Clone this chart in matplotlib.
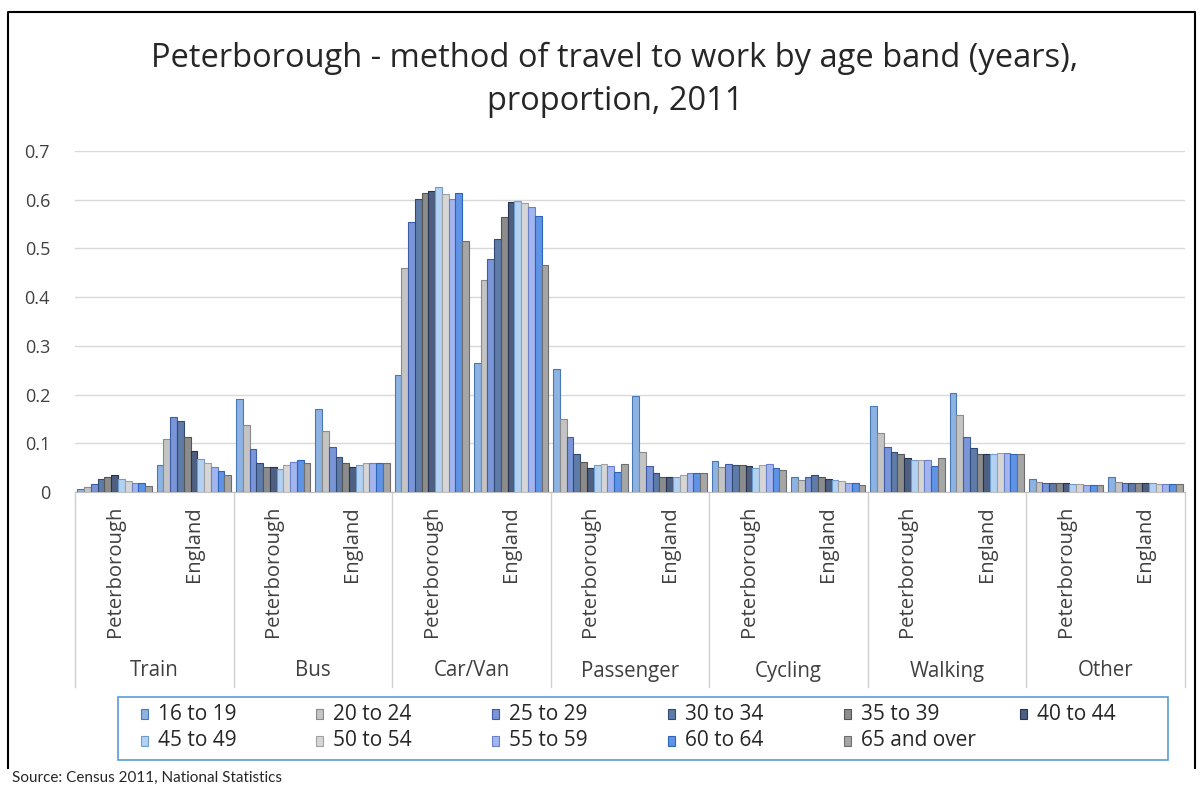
import numpy as np
import matplotlib
matplotlib.use("Agg")
import matplotlib.pyplot as plt
from matplotlib.patches import Rectangle
from matplotlib.lines import Line2D

plt.rcParams['font.family'] = ['Open Sans', 'DejaVu Sans']

modes = ["Train", "Bus", "Car/Van", "Passenger", "Cycling", "Walking", "Other"]
areas = ["Peterborough", "England"]
age_bands = ["16 to 19", "20 to 24", "25 to 29", "30 to 34", "35 to 39", "40 to 44",
             "45 to 49", "50 to 54", "55 to 59", "60 to 64", "65 and over"]

# proportion travelling by each mode, one row per area, one value per age band
train = [[0.007, 0.011, 0.016, 0.027, 0.030, 0.035, 0.027, 0.023, 0.018, 0.019, 0.012],
         [0.056, 0.109, 0.153, 0.145, 0.112, 0.084, 0.068, 0.059, 0.051, 0.043, 0.035]]
bus = [[0.190, 0.137, 0.089, 0.060, 0.052, 0.051, 0.048, 0.056, 0.062, 0.065, 0.060],
       [0.170, 0.126, 0.093, 0.072, 0.059, 0.051, 0.055, 0.059, 0.060, 0.060, 0.060]]
car_van = [[0.241, 0.459, 0.555, 0.602, 0.613, 0.618, 0.626, 0.611, 0.602, 0.614, 0.516],
           [0.265, 0.436, 0.479, 0.519, 0.565, 0.595, 0.597, 0.594, 0.586, 0.566, 0.467]]
passenger = [[0.253, 0.150, 0.112, 0.077, 0.062, 0.050, 0.055, 0.058, 0.054, 0.041, 0.058],
             [0.198, 0.082, 0.053, 0.038, 0.030, 0.030, 0.030, 0.034, 0.038, 0.039, 0.039]]
cycling = [[0.063, 0.052, 0.058, 0.055, 0.055, 0.054, 0.050, 0.056, 0.058, 0.050, 0.046],
           [0.030, 0.025, 0.030, 0.034, 0.031, 0.027, 0.025, 0.022, 0.019, 0.018, 0.014]]
walking = [[0.177, 0.122, 0.093, 0.083, 0.078, 0.069, 0.066, 0.066, 0.066, 0.053, 0.069],
           [0.204, 0.158, 0.112, 0.090, 0.078, 0.078, 0.078, 0.081, 0.081, 0.079, 0.078]]
other = [[0.026, 0.021, 0.018, 0.018, 0.018, 0.018, 0.016, 0.016, 0.015, 0.015, 0.015],
         [0.031, 0.021, 0.019, 0.018, 0.018, 0.018, 0.018, 0.016, 0.016, 0.016, 0.016]]

fills = ["#8DB3E2", "#C4C4C4", "#7B96D6", "#5F7CA8", "#8C8C8C", "#4E5F82",
         "#B3D1F2", "#D6D6D6", "#A3B5EE", "#5E93E6", "#A6A6A6"]
edges = ["#4A78B5", "#8A8A8A", "#3E5CA8", "#2F4A75", "#555555", "#26344F",
         "#6E9CCB", "#A0A0A0", "#6A80C9", "#2E64B8", "#6E6E6E"]

# rows = (mode, area) slots, columns = age bands
table = np.array(train + bus + car_van + passenger + cycling + walking + other)
n_slots, n_bands = table.shape

W, H = 1201, 792
fig = plt.figure(figsize=(W / 100, H / 100), dpi=100)
ax = fig.add_axes([75 / W, 1 - 492 / H, 1110 / W, 341 / H])

x = np.arange(n_slots)
bw = 0.94 / n_bands
for i in range(n_bands):
    ax.bar(x + (i - (n_bands - 1) / 2) * bw, table[:, i], width=bw,
           color=fills[i], edgecolor=edges[i], linewidth=0.8, zorder=3)

ax.set_xlim(-0.5, n_slots - 0.5)
ax.set_ylim(0, 0.7)
ax.set_yticks(np.arange(0, 0.71, 0.1))
ax.set_yticklabels(["0"] + ["%.1f" % v for v in np.arange(0.1, 0.71, 0.1)])
ax.yaxis.grid(True, color="#D9D9D9", linewidth=1, zorder=0)
ax.set_xticks([])
for s in ["top", "right", "left"]:
    ax.spines[s].set_visible(False)
ax.spines["bottom"].set_color("#BFBFBF")
ax.tick_params(axis="y", length=0, labelsize=13, labelcolor="#404040", pad=18)

# two-level category axis drawn below the bars
trans = ax.get_xaxis_transform()
sep_len = (687 - 492) / 341
for k in range(len(modes) + 1):
    ax.add_line(Line2D([2 * k - 0.5] * 2, [0, -sep_len], transform=trans,
                       color="#D0D0D0", linewidth=1, clip_on=False))
for k, mode in enumerate(modes):
    ax.text(2 * k + 0.5, -(671 - 492) / 341, mode, transform=trans,
            ha="center", va="center", fontsize=14.8, color="#404040")
    for j, area in enumerate(areas):
        ax.text(2 * k + j, -(506 - 492) / 341, area, transform=trans,
                rotation=90, ha="center", va="top", fontsize=14.6, color="#404040")

fig.text(0.512, 1 - 58 / H, "Peterborough - method of travel to work by age band (years),",
         ha="center", va="center", fontsize=23.5, color="#262626")
fig.text(0.512, 1 - 101 / H, "proportion, 2011",
         ha="center", va="center", fontsize=23.5, color="#262626")

# legend box
fig.patches.append(Rectangle((118 / W, 1 - 760 / H), 1050 / W, 63 / H,
                             transform=fig.transFigure, fill=False,
                             edgecolor="#5B9BD5", linewidth=1.2))
col_x = [141, 316, 492, 668, 844, 1020]
row_y = [714, 741]
for i, band in enumerate(age_bands):
    r, c = divmod(i, 6)
    mx, my = col_x[c], row_y[r]
    fig.patches.append(Rectangle((mx / W, 1 - (my + 5) / H), 7 / W, 10 / H,
                                 transform=fig.transFigure, facecolor=fills[i],
                                 edgecolor=edges[i], linewidth=0.8))
    fig.text((mx + 17) / W, 1 - my / H, band, ha="left", va="center",
             fontsize=15, color="#262626")

fig.text(12 / W, 1 - 778 / H, "Source: Census 2011, National Statistics",
         ha="left", va="center", fontsize=11, family=["Lato", "DejaVu Sans"], color="#262626")

# outer chart frame
fig.add_artist(Line2D([8 / W, 8 / W, 1195 / W, 1195 / W],
                      [1 - 768 / H, 1 - 12 / H, 1 - 12 / H, 1 - 768 / H],
                      transform=fig.transFigure, color="black", linewidth=1.5))

fig.savefig("out.png", dpi=100, facecolor="white")
